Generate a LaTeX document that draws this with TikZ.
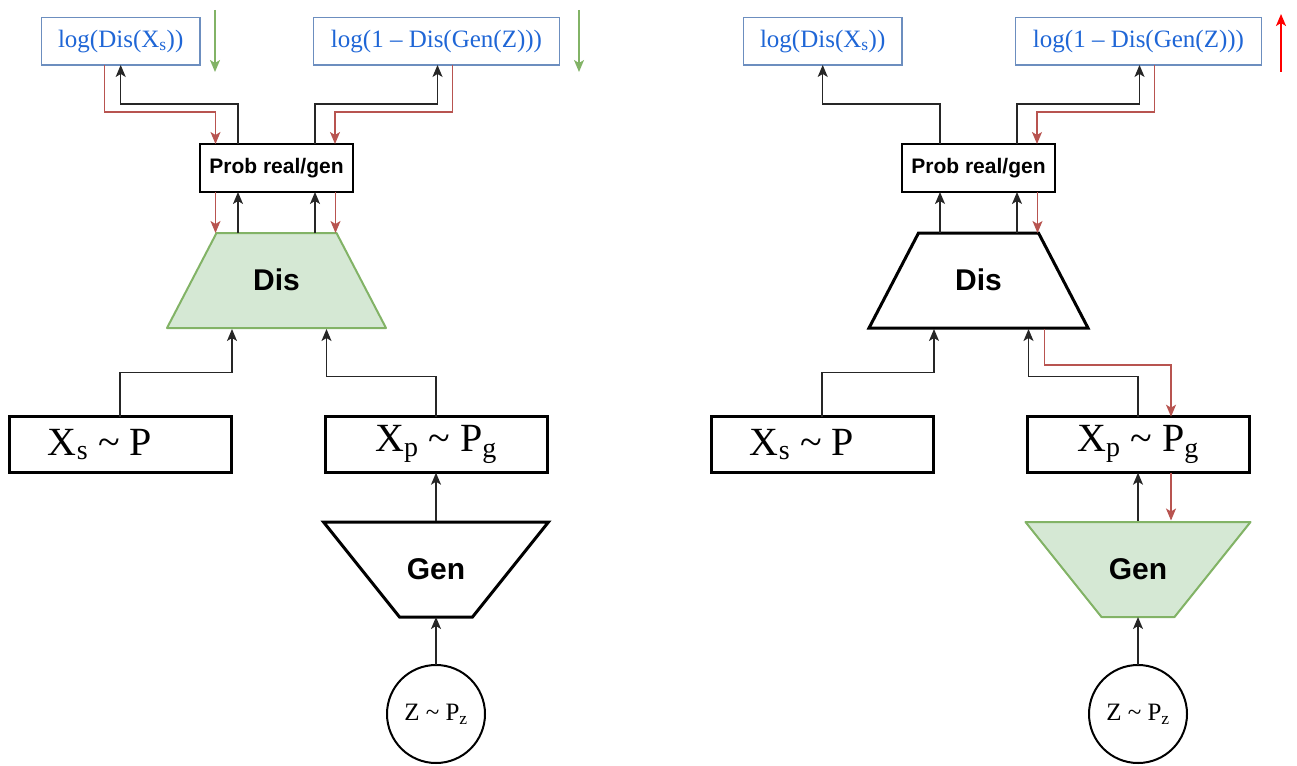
\documentclass[tikz,border=0pt]{standalone}
\usepackage{fontspec}
\setmainfont{Liberation Serif}
\newfontfamily\hv{Liberation Sans}
\usetikzlibrary{arrows.meta,backgrounds}

\definecolor{greenfill}{HTML}{D5E8D4}
\definecolor{greenline}{HTML}{82B366}
\definecolor{redline}{HTML}{B85450}
\definecolor{blueline}{HTML}{6C8EBF}
\definecolor{bluetext}{HTML}{1F66D6}
\definecolor{alert}{HTML}{FF0000}

\newcommand\sub[1]{\textsubscript{#1}}

\tikzset{
  tip/.style={-{Stealth[length=12pt,width=10pt,inset=3pt]}},
  blk/.style={tip, draw=black!85, line width=1.4pt},
  back/.style={tip, draw=redline, line width=1.4pt},
  lossdir/.style={tip, line width=1.6pt},
  lossbox/.style={draw=blueline, line width=1.2pt, minimum height=47.5pt,
    inner sep=0pt, outer sep=0pt, text=bluetext, font=\fontsize{25}{29}\selectfont},
  probbox/.style={draw, line width=1.5pt, minimum width=153pt, minimum height=48pt,
    inner sep=0pt, outer sep=0pt, font=\hv\bfseries\fontsize{21}{25}\selectfont},
  samplebox/.style={draw, line width=3pt, minimum width=222pt, minimum height=56pt,
    inner sep=0pt, outer sep=0pt, font=\fontsize{40}{44}\selectfont},
  % the network bodies: a frame node that carries the label and the anchors
  net/.style={rectangle, minimum height=95pt, inner sep=0pt, outer sep=0pt,
    font=\hv\bfseries\fontsize{30}{34}\selectfont},
  trained/.style={fill=greenfill, draw=greenline, line width=2pt, line join=round},
  frozen/.style={fill=white, draw=black, line width=3pt, line join=miter},
  noise/.style={circle, draw, line width=2pt, minimum size=98pt, inner sep=0pt,
    outer sep=0pt, font=\fontsize{25}{29}\selectfont},
}

% discriminator: narrow top (120pt), wide bottom (219pt)
\newcommand\disbody[2]{%
  \begin{scope}[on background layer]
    \draw[#2] ([xshift=-60pt]#1.north) -- ([xshift=60pt]#1.north)
      -- (#1.south east) -- (#1.south west) -- cycle;
  \end{scope}}
% generator: wide top (225pt), narrow bottom (73pt)
\newcommand\genbody[2]{%
  \begin{scope}[on background layer]
    \draw[#2] (#1.north west) -- (#1.north east)
      -- ([xshift=36.5pt]#1.south) -- ([xshift=-36.5pt]#1.south) -- cycle;
  \end{scope}}

\begin{document}
\begin{tikzpicture}[x=1pt, y=-1pt]
\useasboundingbox (0,0) rectangle (1297,765);

% ---------- left panel: discriminator update ----------
\node[lossbox, minimum width=158.5pt] (la) at (120.7,41.2) {log(Dis(X\sub{s}))};
\node[lossbox, minimum width=246pt] (lb) at (436.5,41.2) {log(1 -- Dis(Gen(Z)))};
\node[probbox] (prob) at (276.5,168) {Prob real/gen};
\node[net, minimum width=219pt] (dis) at (276.5,280.5) {\raisebox{2pt}{Dis}};
\disbody{dis}{trained}
\node[samplebox] (xs) at (120,444.7) {X\sub{s} \textasciitilde{} P\hspace*{40pt}};
\node[samplebox] (xp) at (436,444.7) {X\sub{p} \textasciitilde{} P\sub{g}};
\node[net, minimum width=225pt] (gen) at (436,569.5) {Gen};
\genbody{gen}{frozen}
\node[noise] (z) at (436,714) {Z \textasciitilde{} P\sub{z}};

\coordinate (ga1) at (215,10);  \coordinate (ga2) at (215,72);
\coordinate (gb1) at (579,10);  \coordinate (gb2) at (579,72);
\draw[lossdir, greenline] (ga1) -- (ga2);
\draw[lossdir, greenline] (gb1) -- (gb2);

% forward pass
\draw[blk] (z.north) -- (gen.south);
\draw[blk] ([yshift=1.5pt]gen.north) -- (xp.south);
\draw[blk] (xs.north) -- ++(0,-44) -| ([yshift=-1pt,xshift=-44.5pt]dis.south);
\draw[blk] (xp.north) -- ++(0,-40) -| ([yshift=-1pt,xshift=50pt]dis.south);
\draw[blk] ([xshift=-38.5pt]dis.north) -- ([xshift=-38.5pt]prob.south);
\draw[blk] ([xshift=38.5pt]dis.north) -- ([xshift=38.5pt]prob.south);
\draw[blk] ([xshift=-38.5pt]prob.north) -- ++(0,-40) -| (la.south);
\draw[blk] ([xshift=38.5pt]prob.north) -- ++(0,-40) -| ([xshift=1pt]lb.south);

% gradients back into the discriminator
\draw[back] ([xshift=-16pt]la.south) -- ++(0,47) -| ([xshift=-61pt]prob.north);
\draw[back] ([xshift=16pt]lb.south) -- ++(0,47) -| ([xshift=58.5pt]prob.north);
\draw[back] ([xshift=-61pt]prob.south) -- ([xshift=-61pt]dis.north);
\draw[back] ([xshift=59pt]prob.south) -- ([xshift=59pt]dis.north);

% ---------- right panel: generator update ----------
\begin{scope}[xshift=702pt]
\node[lossbox, minimum width=158.5pt] (ra) at (120.7,41.2) {log(Dis(X\sub{s}))};
\node[lossbox, minimum width=246pt] (rb) at (436.5,41.2) {log(1 -- Dis(Gen(Z)))};
\node[probbox] (rprob) at (276.5,168) {Prob real/gen};
\node[net, minimum width=219pt] (rdis) at (276.5,280.5) {\raisebox{2pt}{Dis}};
\disbody{rdis}{frozen}
\node[samplebox] (rxs) at (120,444.7) {X\sub{s} \textasciitilde{} P\hspace*{40pt}};
\node[samplebox] (rxp) at (436,444.7) {X\sub{p} \textasciitilde{} P\sub{g}};
\node[net, minimum width=225pt] (rgen) at (436,569.5) {Gen};
\genbody{rgen}{trained}
\node[noise] (rz) at (436,714) {Z \textasciitilde{} P\sub{z}};

\coordinate (ra1) at (579,72);  \coordinate (ra2) at (579,14);
\draw[lossdir, alert] (ra1) -- (ra2);

% forward pass
\draw[blk] (rz.north) -- (rgen.south);
\draw[blk] ([yshift=1.5pt]rgen.north) -- (rxp.south);
\draw[blk] (rxs.north) -- ++(0,-44) -| ([yshift=-1pt,xshift=-44.5pt]rdis.south);
\draw[blk] (rxp.north) -- ++(0,-40) -| ([yshift=-1pt,xshift=50pt]rdis.south);
\draw[blk] ([xshift=-38.5pt]rdis.north) -- ([xshift=-38.5pt]rprob.south);
\draw[blk] ([xshift=38.5pt]rdis.north) -- ([xshift=38.5pt]rprob.south);
\draw[blk] ([xshift=-38.5pt]rprob.north) -- ++(0,-40) -| (ra.south);
\draw[blk] ([xshift=38.5pt]rprob.north) -- ++(0,-40) -| ([xshift=1pt]rb.south);

% gradients back through the discriminator into the generator
\draw[back] ([xshift=16pt]rb.south) -- ++(0,47) -| ([xshift=58.5pt]rprob.north);
\draw[back] ([xshift=59pt]rprob.south) -- ([xshift=59pt]rdis.north);
\draw[back] ([yshift=-1pt,xshift=66pt]rdis.south) -- ++(0,36) -| ([xshift=33pt]rxp.north);
\draw[back] ([xshift=33pt]rxp.south) -- ([yshift=1.5pt,xshift=33pt]rgen.north);
\end{scope}
\end{tikzpicture}
\end{document}
